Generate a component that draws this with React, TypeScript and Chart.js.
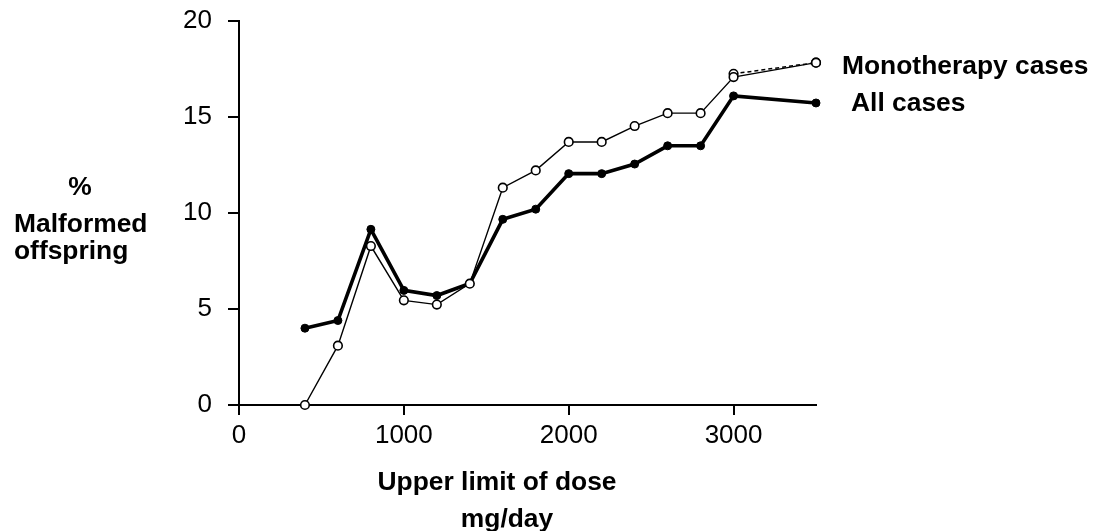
import { useEffect, useRef } from "react";
import { Chart, registerables } from "chart.js";

Chart.register(...registerables);

const doseLevels = [400, 600, 800, 1000, 1200, 1400, 1600, 1800, 2000, 2200, 2400, 2600, 2800, 3000, 3500];
const allCases = [4.0, 4.4, 9.15, 5.97, 5.7, 6.33, 9.67, 10.2, 12.05, 12.05, 12.55, 13.5, 13.5, 16.1, 15.73];
const monotherapyCases = [0, 3.09, 8.28, 5.45, 5.23, 6.32, 11.32, 12.22, 13.7, 13.7, 14.53, 15.2, 15.2, 17.08, 17.83];
const monotherapyAltDose = [3000, 3500];
const monotherapyAltValues = [17.25, 17.83];

const xTicks = [0, 1000, 2000, 3000];
const yTicks = [0, 5, 10, 15, 20];
const seriesLabels = ["Monotherapy cases", "All cases"];
const yTitleLines = ["%", "Malformed", "offspring"];
const xTitleLines = ["Upper limit of dose", "mg/day"];

const FONT = "'Liberation Sans', Arial, Helvetica, sans-serif";

const textPlugin = {
  id: "textPlugin",
  afterDraw(chart: any) {
    const ctx = chart.ctx;
    const xs = chart.scales.x;
    const ys = chart.scales.y;
    ctx.save();
    ctx.fillStyle = "#000";
    ctx.font = `bold 26.4px ${FONT}`;
    ctx.textBaseline = "alphabetic";

    // y title (horizontal lines)
    ctx.textAlign = "center";
    ctx.fillText(yTitleLines[0], 80, 195);
    ctx.textAlign = "left";
    ctx.fillText(yTitleLines[1], 14, 232);
    ctx.fillText(yTitleLines[2], 14, 259);

    // x title
    ctx.textAlign = "center";
    ctx.fillText(xTitleLines[0], 497, 490);
    ctx.fillText(xTitleLines[1], 507, 527);

    // series labels next to last points
    ctx.textAlign = "left";
    const lastX = xs.getPixelForValue(doseLevels[doseLevels.length - 1]);
    const monoY = ys.getPixelForValue(monotherapyCases[monotherapyCases.length - 1]);
    const allY = ys.getPixelForValue(allCases[allCases.length - 1]);
    ctx.fillText(seriesLabels[0], lastX + 26, monoY + 11);
    ctx.fillText(seriesLabels[1], lastX + 35, allY + 8.5);
    ctx.restore();
  },
};

export default function App() {
  const canvasRef = useRef<HTMLCanvasElement | null>(null);

  useEffect(() => {
    if (!canvasRef.current) return;
    const chart = new Chart(canvasRef.current, {
      type: "line",
      data: {
        datasets: [
          {
            label: seriesLabels[0],
            data: doseLevels.map((d, i) => ({ x: d, y: monotherapyCases[i] })),
            borderColor: "#000",
            borderWidth: 1.4,
            pointRadius: 4.3,
            pointBackgroundColor: "#fff",
            pointBorderColor: "#000",
            pointBorderWidth: 1.6,
            tension: 0,
            clip: false,
            order: 0,
          },
          {
            label: seriesLabels[1],
            data: doseLevels.map((d, i) => ({ x: d, y: allCases[i] })),
            borderColor: "#000",
            borderWidth: 3.6,
            pointRadius: 4,
            pointBackgroundColor: "#000",
            pointBorderColor: "#000",
            pointBorderWidth: 1,
            tension: 0,
            clip: false,
            order: 1,
          },
          {
            label: "Monotherapy (alt)",
            data: monotherapyAltDose.map((d, i) => ({ x: d, y: monotherapyAltValues[i] })),
            borderColor: "#000",
            borderWidth: 1.5,
            borderDash: [4, 3],
            pointRadius: 4.3,
            pointBackgroundColor: "#fff",
            pointBorderColor: "#000",
            pointBorderWidth: 1.6,
            tension: 0,
            clip: false,
            order: 2,
          },
        ],
      },
      options: {
        animation: false,
        responsive: true,
        maintainAspectRatio: false,
        layout: { padding: { left: 0, top: 21, right: 278, bottom: 0 } },
        plugins: { legend: { display: false }, tooltip: { enabled: false } },
        scales: {
          x: {
            type: "linear",
            min: 0,
            max: 3500,
            afterBuildTicks: (scale: any) => {
              scale.ticks = xTicks.map((v) => ({ value: v }));
            },
            afterFit: (scale: any) => {
              scale.height = 126;
              scale.paddingLeft = 0;
              scale.paddingRight = 0;
            },
            grid: {
              drawOnChartArea: false,
              drawTicks: true,
              tickLength: 10,
              tickWidth: 2,
              tickColor: "#000",
              color: "#000",
              lineWidth: 2,
            },
            border: { display: true, color: "#000", width: 2 },
            ticks: {
              color: "#000",
              font: { family: FONT, size: 26 },
              padding: 5,
              maxRotation: 0,
              autoSkip: false,
              callback: (v: any) => String(v),
            },
          },
          y: {
            type: "linear",
            min: 0,
            max: 20,
            afterBuildTicks: (scale: any) => {
              scale.ticks = yTicks.map((v) => ({ value: v }));
            },
            afterFit: (scale: any) => {
              scale.width = 239;
              scale.paddingTop = 0;
              scale.paddingBottom = 0;
            },
            grid: {
              drawOnChartArea: false,
              drawTicks: true,
              tickLength: 11,
              tickWidth: 2,
              tickColor: "#000",
              color: "#000",
              lineWidth: 2,
            },
            border: { display: true, color: "#000", width: 2 },
            ticks: {
              color: "#000",
              font: { family: FONT, size: 26 },
              padding: 16,
              autoSkip: false,
              callback: (v: any) => String(v),
            },
          },
        },
      },
      plugins: [textPlugin],
    });
    return () => chart.destroy();
  }, []);

  return (
    <div style={{ position: "fixed", left: 0, top: 0, width: 1094, height: 531, background: "#fff" }}>
      <canvas ref={canvasRef} />
    </div>
  );
}
